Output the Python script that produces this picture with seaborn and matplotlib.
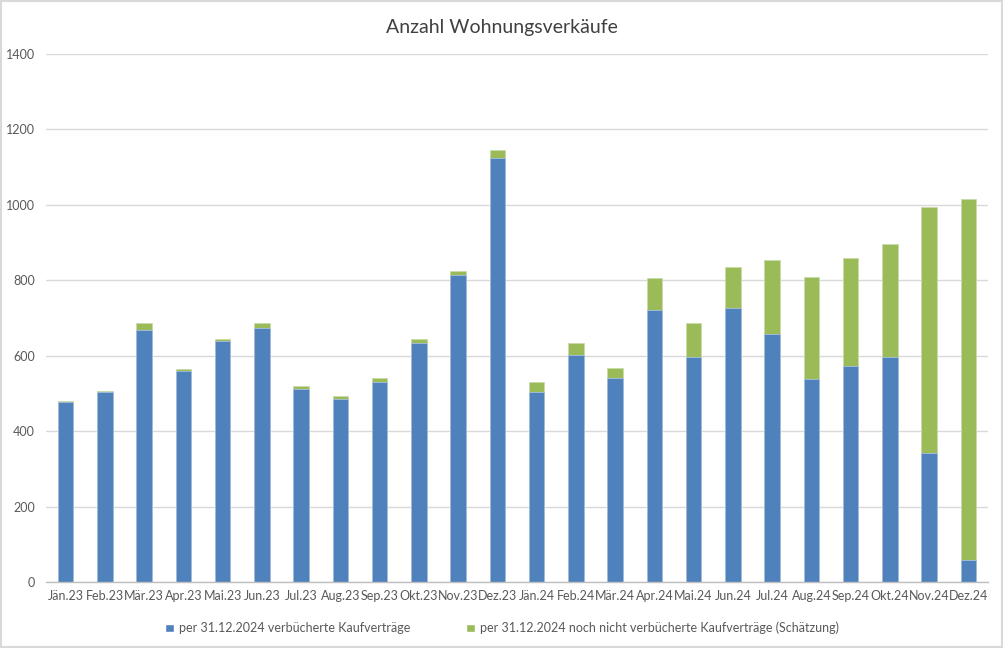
import matplotlib
matplotlib.use("Agg")
import matplotlib.pyplot as plt
import seaborn as sns
import pandas as pd
import numpy as np
from matplotlib.patches import Rectangle, Patch
from matplotlib.ticker import FixedLocator

months = ["Jän.23", "Feb.23", "Mär.23", "Apr.23", "Mai.23", "Jun.23", "Jul.23", "Aug.23",
          "Sep.23", "Okt.23", "Nov.23", "Dez.23", "Jän.24", "Feb.24", "Mär.24", "Apr.24",
          "Mai.24", "Jun.24", "Jul.24", "Aug.24", "Sep.24", "Okt.24", "Nov.24", "Dez.24"]
booked = [478, 505, 668, 559, 640, 674, 511, 486, 530, 634, 814, 1123,
          504, 603, 540, 721, 597, 727, 657, 538, 574, 596, 343, 59]
estimated = [3, 2, 19, 7, 3, 12, 10, 7, 10, 10, 10, 22,
             25, 30, 27, 85, 91, 109, 196, 270, 286, 299, 651, 957]

label_booked = "per 31.12.2024 verbücherte Kaufverträge"
label_est = "per 31.12.2024 noch nicht verbücherte Kaufverträge (Schätzung)"

c_blue = "#4F81BD"
c_green = "#9BBB59"
txt = "#595959"

df = pd.DataFrame({"Monat": months, "booked": booked, "estimated": estimated})
df["total"] = df["booked"] + df["estimated"]

sns.set_theme(style="white")
plt.rcParams["font.family"] = ["Lato", "DejaVu Sans"]

fig = plt.figure(figsize=(10.04, 6.48), dpi=100)
ax = fig.add_axes([46 / 1004, 1 - 582 / 648, (988 - 46) / 1004, (582 - 54) / 648])

sns.barplot(data=df, x="Monat", y="total", color=c_green, width=0.4, ax=ax,
            saturation=1, edgecolor="#C9DBA8", linewidth=0.6, order=months)
sns.barplot(data=df, x="Monat", y="booked", color=c_blue, width=0.4, ax=ax,
            saturation=1, edgecolor="#A7BFDE", linewidth=0.6, order=months)

ax.set_xlim(-0.5, len(months) - 0.5)
ax.set_ylim(0, 1400)
ax.set_yticks(np.arange(0, 1401, 200))
ax.yaxis.grid(True, color="#D9D9D9", linewidth=1)
ax.set_axisbelow(True)
ax.set_xlabel("")
ax.set_ylabel("")
for s in ["top", "right", "left"]:
    ax.spines[s].set_visible(False)
ax.spines["bottom"].set_color("#BFBFBF")
ax.spines["bottom"].set_linewidth(1)
ax.tick_params(axis="y", length=0, labelsize=9, labelcolor=txt, pad=8)
ax.tick_params(axis="x", which="major", length=0, labelsize=9, labelcolor=txt, pad=6)
ax.xaxis.set_minor_locator(FixedLocator(np.arange(-0.5, len(months), 1)))
ax.tick_params(axis="x", which="minor", length=5, color="#BFBFBF", width=1)

fig.text(0.5, 1 - 27 / 648, "Anzahl Wohnungsverkäufe", ha="center", va="center",
         fontsize=14, color="#404040")

handles = [Patch(facecolor=c_blue, label=label_booked),
           Patch(facecolor=c_green, label=label_est)]
fig.legend(handles=handles, loc="center", bbox_to_anchor=(0.5, 1 - 628 / 648), ncol=2,
           frameon=False, fontsize=9, handlelength=0.7, handleheight=0.7,
           columnspacing=4.5, handletextpad=0.4, labelcolor=txt)

fig.patches.append(Rectangle((0.001, 0.001), 0.997, 0.997, transform=fig.transFigure,
                             fill=False, edgecolor="#D9D9D9", linewidth=1.5))

fig.savefig("out.png", dpi=100)
